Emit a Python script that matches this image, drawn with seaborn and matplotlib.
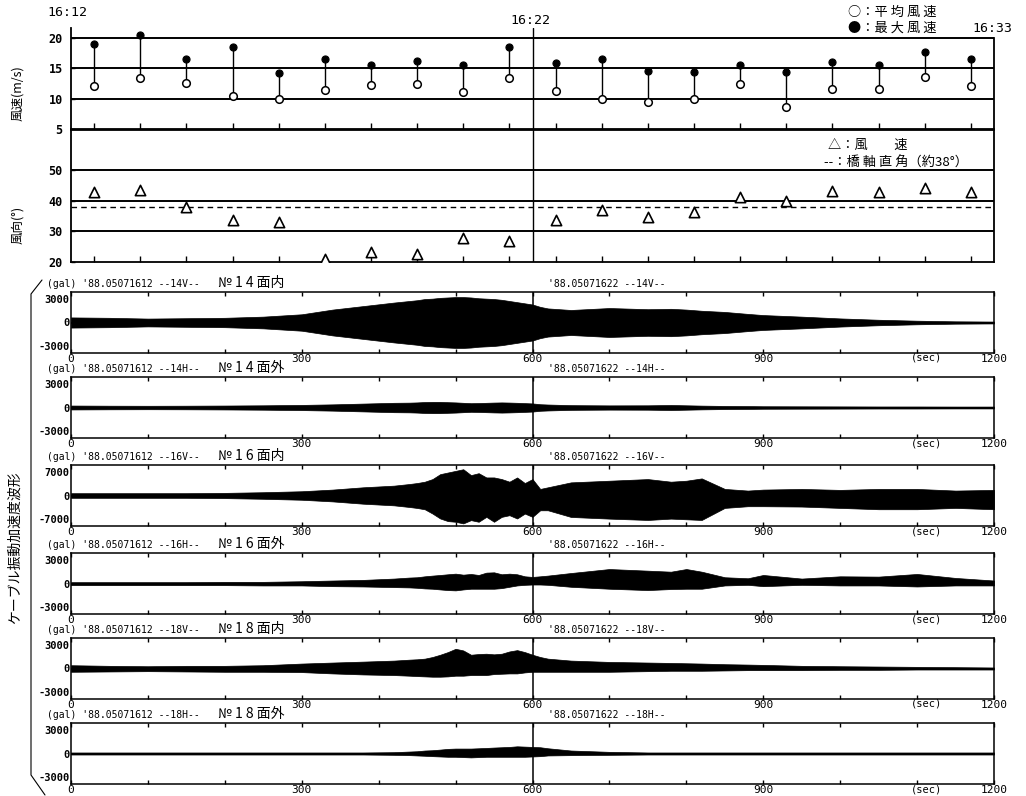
import numpy as np
import pandas as pd
import matplotlib
matplotlib.use("Agg")
import matplotlib.pyplot as plt
import seaborn as sns
from matplotlib.lines import Line2D
from matplotlib.ticker import MultipleLocator, FixedLocator

sns.set_theme(style="white", rc={"axes.edgecolor": "black", "xtick.color": "black",
                                 "ytick.color": "black", "text.color": "black",
                                 "axes.labelcolor": "black"})
plt.rcParams['font.family'] = ['Noto Sans CJK JP', 'DejaVu Sans']
MONO = ['DejaVu Sans Mono', 'Noto Sans CJK JP']

# ---------------- data ----------------
minutes = list(range(20))
wind_max = [18.9, 20.5, 16.5, 18.5, 14.2, 16.5, 15.6, 16.1, 15.5, 18.5,
            15.9, 16.5, 14.6, 14.3, 15.6, 14.3, 16.0, 15.6, 17.7, 16.5]
wind_mean = [12.1, 13.3, 12.6, 10.5, 10.0, 11.4, 12.3, 12.4, 11.0, 13.3,
             11.3, 10.0, 9.5, 10.0, 12.4, 8.6, 11.5, 11.5, 13.5, 12.1]
wind_dir = [42.8, 43.3, 37.8, 33.6, 33.0, 21.1, 23.3, 22.7, 27.8, 27.0,
            33.7, 37.1, 34.8, 36.3, 41.1, 39.8, 43.2, 42.7, 44.0, 42.7]
bridge_normal = 38

speed_ticks = [5, 10, 15, 20]
dir_ticks = [20, 30, 40, 50]

t_sec = [0, 50, 100, 150, 200, 250, 300, 340, 380, 420,
         440, 450, 460, 470, 480, 490, 500, 510, 520, 530,
         540, 550, 560, 570, 580, 590, 600, 610, 620,
         650, 700, 750, 780, 800, 820, 850, 880, 900, 950, 1000, 1050, 1100, 1150, 1200]

a14v_up = [650, 600, 500, 550, 600, 750, 1050, 1650, 2100, 2550,
           2750, 2850, 3000, 3050, 3150, 3200, 3250, 3250, 3200, 3100,
           3050, 3000, 2900, 2750, 2600, 2450, 2300, 2000, 1800,
           1600, 1850, 1700, 1750, 1650, 1500, 1350, 1100, 950, 750, 520, 350, 230, 150, 120]
a14v_lo = a14v_up

a14h_up = [250, 230, 220, 230, 250, 280, 330, 400, 500, 600,
           620, 650, 700, 720, 720, 680, 650, 600, 550, 570,
           600, 630, 650, 630, 600, 560, 520, 420, 380,
           300, 270, 280, 320, 280, 240, 200, 180, 160, 150, 140, 130, 130, 120, 120]
a14h_lo = a14h_up

a16v_up = [690, 690, 690, 690, 780, 980, 1270, 1760, 2450, 2940,
           3430, 3720, 4120, 4900, 6370, 6860, 7350, 7840, 6080, 6660,
           5390, 5390, 4900, 4120, 5390, 3720, 4900, 1960, 2450,
           3920, 4410, 4900, 4120, 4410, 5100, 1960, 1470, 1760, 1960, 1670, 1960, 1960, 1470, 1670]
a16v_lo = [690, 690, 690, 690, 780, 980, 1270, 1760, 2450, 2940,
           3430, 3720, 4120, 5390, 6860, 7640, 7840, 8330, 7350, 7840,
           6370, 7840, 6370, 5880, 6860, 5390, 6370, 4410, 4410,
           6400, 6900, 7300, 6900, 7100, 7300, 3700, 3200, 3200, 3300, 3700, 4100, 4100, 3700, 4100]

a16h_up = [170, 170, 170, 170, 210, 210, 290, 380, 460, 630,
           760, 800, 920, 1010, 1090, 1180, 1260, 1130, 1220, 1090,
           1390, 1430, 1180, 1260, 1180, 920, 840, 920, 1010,
           1340, 1850, 1640, 1510, 1850, 1510, 800, 670, 1090, 630, 920, 880, 1220, 710, 380]
a16h_lo = [210, 210, 210, 210, 210, 250, 250, 340, 380, 460,
           500, 550, 630, 670, 760, 840, 880, 760, 670, 670,
           670, 670, 590, 420, 250, 170, 130, 130, 170,
           420, 670, 840, 710, 670, 670, 250, 170, 340, 170, 250, 250, 380, 250, 250]

a18v_up = [420, 340, 290, 340, 340, 420, 630, 760, 880, 1010,
           1130, 1180, 1260, 1470, 1760, 2100, 2520, 2310, 1760, 1850,
           1890, 1810, 1890, 2180, 2350, 2100, 1760, 1470, 1260,
           1010, 840, 760, 710, 670, 630, 550, 500, 460, 340, 290, 250, 210, 170, 130]
a18v_lo = [420, 380, 340, 380, 420, 420, 460, 630, 760, 840,
           920, 970, 1010, 1050, 1050, 1010, 920, 920, 840, 840,
           840, 710, 670, 630, 630, 500, 420, 420, 420,
           420, 420, 340, 290, 290, 290, 250, 210, 210, 210, 170, 170, 130, 130, 130]

a18h_up = [130, 130, 130, 130, 130, 130, 130, 130, 130, 170,
           250, 290, 380, 420, 500, 590, 630, 630, 630, 670,
           710, 760, 800, 840, 920, 880, 840, 800, 670,
           380, 210, 130, 130, 130, 130, 130, 130, 130, 130, 130, 130, 130, 130, 130]
a18h_lo = [130, 130, 130, 130, 130, 130, 130, 130, 130, 170,
           210, 250, 290, 340, 380, 420, 420, 460, 500, 460,
           420, 420, 420, 420, 420, 420, 380, 340, 250,
           210, 170, 130, 130, 130, 130, 130, 130, 130, 130, 130, 130, 130, 130, 130]

channels = ["14V", "14H", "16V", "16H", "18V", "18H"]
channel_names = ["№ 1 4 面内", "№ 1 4 面外", "№ 1 6 面内", "№ 1 6 面外", "№ 1 8 面内", "№ 1 8 面外"]
full_scale = [3000, 3000, 7000, 3000, 3000, 3000]
x_ticks = [0, 300, 600, 900, 1200]

# ---------------- figure ----------------
W, H = 1026, 796
fig = plt.figure(figsize=(W / 100, H / 100), dpi=100)
fig.patch.set_facecolor("white")


def ax_px(left, top, right, bottom):
    return fig.add_axes([left / W, 1 - bottom / H, (right - left) / W, (bottom - top) / H])


def ftext(x, y, s, **kw):
    return fig.text(x / W, 1 - y / H, s, **kw)


xpos = [m + 0.5 for m in minutes]
df = pd.DataFrame({"x": xpos, "vmax": wind_max, "vmean": wind_mean, "dir": wind_dir})

# ---- wind speed panel ----
ax1 = ax_px(71, 28, 994, 129)
ax1.set_xlim(0, 20)
ax1.set_ylim(5, 21.6)
for y in speed_ticks[1:]:
    ax1.axhline(y, color="black", lw=1.4, zorder=1)
ax1.vlines(df["x"], df["vmean"], df["vmax"], color="black", lw=1.0, zorder=2)
sns.scatterplot(data=df, x="x", y="vmax", marker="o", s=26, color="black",
                edgecolor="black", linewidth=0.8, ax=ax1, zorder=4)
sns.scatterplot(data=df, x="x", y="vmean", marker="o", s=30, color="white",
                edgecolor="black", linewidth=1.1, ax=ax1, zorder=4)
ax1.axvline(10, color="black", lw=1.0)
ax1.set_xlabel("")
ax1.set_ylabel("")
ax1.spines["top"].set_visible(False)
ax1.spines["right"].set_bounds(5, 20)
for s in ax1.spines.values():
    s.set_linewidth(1.3)
ax1.set_yticks(speed_ticks)
ax1.set_yticklabels([str(v) for v in speed_ticks], family=MONO, fontsize=8.5, fontweight="bold")
ax1.xaxis.set_major_locator(FixedLocator(xpos))
ax1.set_xticklabels([])
ax1.tick_params(axis="x", direction="in", length=4, width=1, bottom=True)
ax1.tick_params(axis="y", direction="in", length=3, width=1, left=True, pad=6)

# ---- wind direction panel ----
ax2 = ax_px(71, 130, 994, 262)
ax2.set_xlim(0, 20)
ax2.set_ylim(20, 63)
for y in dir_ticks[1:]:
    ax2.axhline(y, color="black", lw=1.4, zorder=1)
ax2.axhline(bridge_normal, color="black", lw=1.0, ls=(0, (4, 3)), zorder=1)
sns.scatterplot(data=df, x="x", y="dir", marker="^", s=55, color="white",
                edgecolor="black", linewidth=1.2, ax=ax2, zorder=4)
ax2.axvline(10, color="black", lw=1.0)
ax2.set_xlabel("")
ax2.set_ylabel("")
for s in ax2.spines.values():
    s.set_linewidth(1.3)
ax2.set_yticks(dir_ticks)
ax2.set_yticklabels([str(v) for v in dir_ticks], family=MONO, fontsize=8.5, fontweight="bold")
ax2.xaxis.set_major_locator(FixedLocator(xpos))
ax2.set_xticklabels([])
ax2.tick_params(axis="x", direction="in", length=4, width=1, bottom=True)
ax2.tick_params(axis="y", direction="in", length=3, width=1, left=True, pad=6)

# ---- header texts ----
ftext(47, 13, "16:12", family=MONO, fontsize=9.5, va="center")
ftext(510, 20, "16:22", family=MONO, fontsize=9.5, va="center")
ftext(972, 28, "16:33", family=MONO, fontsize=9.5, va="center")
ftext(848, 12, "○：平 均 風 速", fontsize=9.5, va="center")
ftext(848, 28, "●：最 大 風 速", fontsize=9.5, va="center")
ftext(828, 145, "△：風　　速", fontsize=9.5, va="center")
ftext(824, 163, "--：橋 軸 直 角（約38°）", fontsize=9.5, va="center")
ftext(18, 93, "風速(m/s)", rotation=90, fontsize=9, ha="center", va="center")
ftext(18, 225, "風向(°)", rotation=90, fontsize=9, ha="center", va="center")
ftext(15, 548, "ケーブル振動加速度波形", rotation=90, fontsize=10, ha="center", va="center")
fig.add_artist(Line2D([42 / W, 31 / W, 31 / W, 45 / W],
                      [1 - 280 / H, 1 - 294 / H, 1 - 775 / H, 1 - 795 / H],
                      color="black", lw=0.8))

# ---- waveform panels ----
wave_up = [a14v_up, a14h_up, a16v_up, a16h_up, a18v_up, a18h_up]
wave_lo = [a14v_lo, a14h_lo, a16v_lo, a16h_lo, a18v_lo, a18h_lo]
tops = [292, 377, 465, 553, 638, 723]
t_arr = np.array(t_sec)
for i in range(6):
    top = tops[i]
    ax = ax_px(71, top, 994, top + 61)
    sc = full_scale[i]
    lim = 1.3 * sc
    ax.set_xlim(0, 1200)
    ax.set_ylim(-lim, lim)
    ax.fill_between(t_arr, np.array(wave_up[i]), -np.array(wave_lo[i]),
                    color="black", linewidth=0.5, zorder=2)
    ax.axhline(0, color="black", lw=1.3, zorder=3)
    ax.axvline(600, color="black", lw=1.1, zorder=3)
    for s in ax.spines.values():
        s.set_linewidth(1.1)
    ax.set_xticks(x_ticks)
    ax.set_xticklabels([str(v) for v in x_ticks], family=MONO, fontsize=8)
    ax.xaxis.set_minor_locator(MultipleLocator(100))
    ax.tick_params(axis="x", which="both", direction="in", length=3, width=1,
                   top=True, bottom=True, pad=1)
    ax.set_yticks([-sc, 0, sc])
    ax.set_yticklabels([str(-sc), "0", str(sc)], family=MONO, fontsize=7.5, fontweight="bold")
    ax.tick_params(axis="y", direction="in", length=0, pad=1)
    ax.text(1112, -lim, "(sec)", family=MONO, fontsize=7.5, ha="center", va="top")
    ftext(47, top - 3, f"(gal) '88.05071612 --{channels[i]}--", family=MONO, fontsize=7, va="bottom")
    ftext(218, top - 2, channel_names[i], fontsize=10, va="bottom")
    ftext(548, top - 3, f"'88.05071622 --{channels[i]}--", family=MONO, fontsize=7, va="bottom")

fig.savefig("out.png", dpi=100, facecolor="white")
